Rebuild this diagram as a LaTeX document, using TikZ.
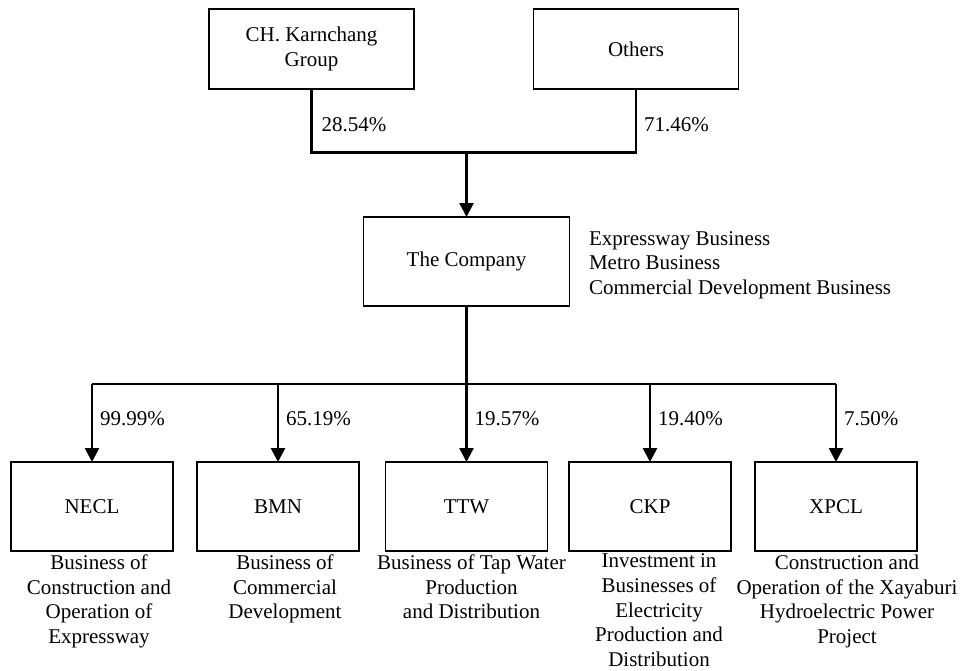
\documentclass[tikz,border=0pt]{standalone}
\usepackage{fontspec}
\setmainfont{Liberation Serif}
\usetikzlibrary{arrows.meta,positioning,calc}
\definecolor{ownInk}{HTML}{000000}
\tikzset{
  own chart/.style={
    x=1pt, y=-1pt, draw=ownInk, line width=2.6pt,
    >={Triangle[length=14pt,width=14pt]},
    every node/.style={font=\fontsize{21}{24.6}\selectfont,
      text=ownInk, inner sep=0pt, outer sep=0pt}
  },
  own box/.style={draw=ownInk, line width=1.6pt, align=center},
  own top/.style={own box, minimum width=205pt, minimum height=80pt},
  own sub/.style={own box, minimum width=162pt, minimum height=89pt},
  own link/.style={draw=ownInk, line width=2.6pt},
  own note/.style={align=center, anchor=north}
}

\begin{document}
\begin{tikzpicture}[own chart]
    \useasboundingbox (0,0) rectangle (960,670);
    % shareholders
    \node[own top] (ckg) at (311.5,49) {CH. Karnchang\\Group};
    \node[own top] (oth) at (636,49) {Others};
    \node[own box, minimum width=206pt, minimum height=89pt] (comp) at (466.5,261.5) {The Company};
    \node[align=left, anchor=west] (compnote) at (589,265)
      {Expressway Business\\Metro Business\\Commercial Development Business};
    \coordinate (topbus) at (466.5,152.5);
    \draw[own link] (ckg.south) |- (topbus) -| (oth.south);
    \draw[own link,->] (topbus) -- (comp.north);
    \node[anchor=west] (ckgpct) at ($(ckg.south |- topbus)+(10,-28)$) {28.54\%};
    \node[anchor=west] (othpct) at ($(oth.south |- topbus)+(8,-28)$) {71.46\%};
    % subsidiaries
    \foreach \n/\t/\x in {necl/NECL/92, bmn/BMN/278, ttw/TTW/466.5, ckp/CKP/650, xpcl/XPCL/836}
      \node[own sub] (\n) at (\x,506.5) {\t};
    \coordinate (bus) at (466.5,384);
    \draw[own link] (comp.south) -- (bus);
    \draw[own link] (necl.north |- bus) -- (xpcl.north |- bus);
    \foreach \n/\p in {necl/99.99, bmn/65.19, ttw/19.57, ckp/19.40, xpcl/7.50} {
      \draw[own link,->] (\n.north |- bus) -- (\n.north);
      \node[anchor=west] (\n pct) at ($(\n.north |- bus)+(8,35)$) {\p\%};
    }
    \node[own note] (necl note) at ($(necl.south)+(7,4)$)
      {Business of\\Construction and\\Operation of\\Expressway};
    \node[own note] (bmn note) at ($(bmn.south)+(7,4)$)
      {Business of\\Commercial\\Development};
    \node[own note] (ttw note) at ($(ttw.south)+(5,4)$)
      {Business of Tap Water\\Production\\and Distribution};
    \node[own note] (ckp note) at ($(ckp.south)+(9,3)$)
      {Investment in\\Businesses of\\Electricity\\Production and\\Distribution};
    \node[own note] (xpcl note) at ($(xpcl.south)+(11,4)$)
      {Construction and\\Operation of the Xayaburi\\Hydroelectric Power\\Project};
  \end{tikzpicture}
\end{document}
